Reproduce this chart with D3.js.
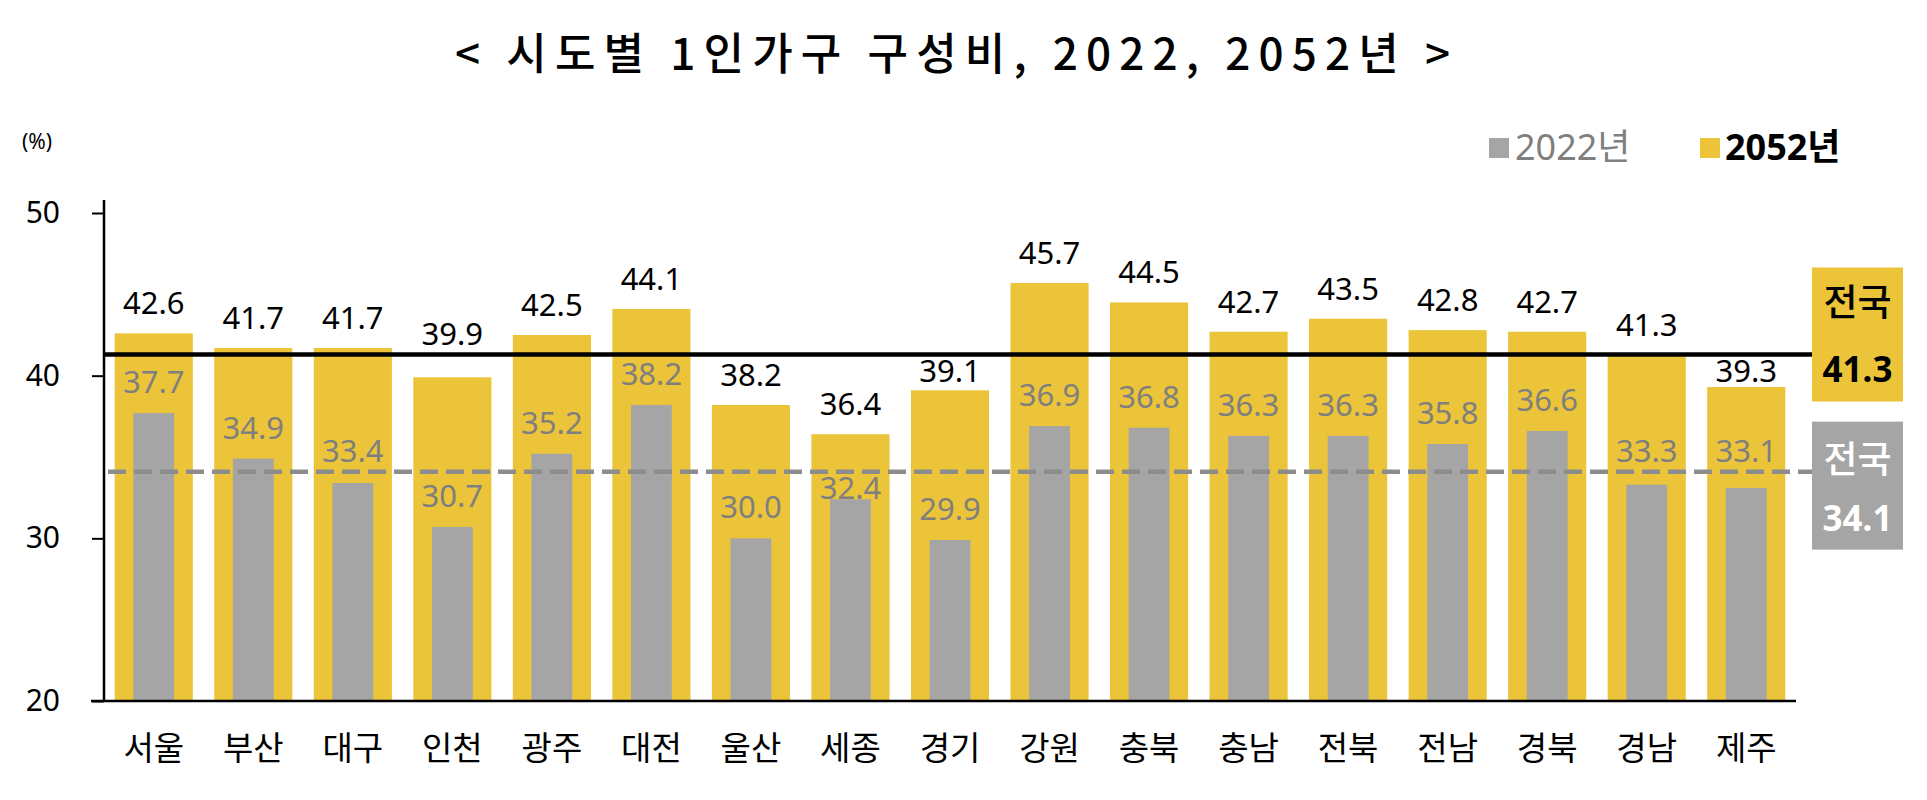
<!DOCTYPE html>
<html>
<head>
<meta charset="utf-8">
<script src="https://cdn.jsdelivr.net/npm/d3@7"></script>
<style>
    body { margin: 0; background: #fff; }
    text { font-family: "Noto Sans", "Noto Sans CJK KR", sans-serif; }
    .kr { font-family: "Noto Sans CJK KR", "Noto Sans", sans-serif; }
</style>
</head>
<body>
<div id="chart"></div>
<script>
// data
const regions = ['서울', '부산', '대구', '인천', '광주', '대전', '울산', '세종', '경기',
                 '강원', '충북', '충남', '전북', '전남', '경북', '경남', '제주'];
const values2022 = [37.7, 34.9, 33.4, 30.7, 35.2, 38.2, 30.0, 32.4, 29.9,
                    36.9, 36.8, 36.3, 36.3, 35.8, 36.6, 33.3, 33.1];
const values2052 = [42.6, 41.7, 41.7, 39.9, 42.5, 44.1, 38.2, 36.4, 39.1,
                    45.7, 44.5, 42.7, 43.5, 42.8, 42.7, 41.3, 39.3];
const seriesNames = ['2022년', '2052년'];
const nationalValues = [34.1, 41.3];
const nationalLabel = '전국';
const yTicks = [20, 30, 40, 50];
const title = '< 시도별 1인가구 구성비, 2022, 2052년 >';
const unitLabel = '(%)';

let width = 1927;
let height = 800;

let colors = { gray: '#a5a5a5', gold: '#ebc43a', grayText: '#7f7f7f', dash: '#8c8c8c' };

let svg = d3.select('#chart').append('svg')
    .attr('width', width)
    .attr('height', height);

// scales
let x = d3.scaleBand().domain(regions).range([104, 1796]).padding(0);
let y = d3.scaleLinear().domain([20, 50]).range([701, 213]);

let bw = x.bandwidth();
let goldW = bw * 0.785;
let grayW = bw * 0.41;

// title
svg.append('text')
    .attr('class', 'kr')
    .attr('x', 455)
    .attr('y', 70)
    .attr('textLength', 995)
    .attr('lengthAdjust', 'spacing')
    .style('font-size', '44px')
    .style('font-weight', 500)
    .text(title);

svg.append('text')
    .attr('x', 22)
    .attr('y', 149)
    .style('font-size', '21px')
    .text(unitLabel);

// legend
let legend = svg.append('g');
legend.append('rect').attr('x', 1489).attr('y', 138).attr('width', 20).attr('height', 20).attr('fill', colors.gray);
legend.append('text').attr('x', 1515).attr('y', 160)
    .style('font-size', '36px').attr('fill', colors.grayText).text(seriesNames[0]);
legend.append('rect').attr('x', 1700).attr('y', 138).attr('width', 20).attr('height', 20).attr('fill', colors.gold);
legend.append('text').attr('x', 1725).attr('y', 160)
    .style('font-size', '36px').style('font-weight', 'bold').text(seriesNames[1]);

// bars
let rows = regions.map((r, i) => ({ region: r, v22: values2022[i], v52: values2052[i] }));

svg.append('g').selectAll('rect')
    .data(rows)
    .enter().append('rect')
    .attr('x', d => x(d.region) + (bw - goldW) / 2)
    .attr('width', goldW)
    .attr('y', d => y(d.v52))
    .attr('height', d => y(20) - y(d.v52))
    .attr('fill', colors.gold);

svg.append('g').selectAll('rect')
    .data(rows)
    .enter().append('rect')
    .attr('x', d => x(d.region) + (bw - grayW) / 2)
    .attr('width', grayW)
    .attr('y', d => y(d.v22))
    .attr('height', d => y(20) - y(d.v22))
    .attr('fill', colors.gray);

// national average lines
let line52 = y(nationalValues[1]);
let line22 = y(nationalValues[0]);
let boxLeft = 1812;
let boxRight = 1903;

svg.append('line')
    .attr('x1', 104).attr('x2', boxLeft)
    .attr('y1', line52).attr('y2', line52)
    .attr('stroke', '#000').attr('stroke-width', 4.5);

svg.append('line')
    .attr('x1', 108).attr('x2', boxLeft)
    .attr('y1', line22).attr('y2', line22)
    .attr('stroke', colors.dash).attr('stroke-width', 4.5)
    .attr('stroke-dasharray', '18,8');

// axes
let yAxis = d3.axisLeft(y).tickValues(yTicks).tickSize(12).tickPadding(32).tickSizeOuter(0);
let gy = svg.append('g').attr('transform', 'translate(104,0)').call(yAxis);
gy.select('.domain').remove();
gy.selectAll('line').attr('stroke', '#000').attr('stroke-width', 2);
gy.selectAll('text').style('font-size', '30px').attr('fill', '#000')
    .style('font-family', '"Noto Sans", sans-serif');
gy.append('line').attr('x1', 0).attr('x2', 0).attr('y1', 200).attr('y2', y(20))
    .attr('stroke', '#000').attr('stroke-width', 2.5);

let xAxis = d3.axisBottom(x).tickSize(0).tickPadding(36);
let gx = svg.append('g').attr('transform', 'translate(0,' + y(20) + ')').call(xAxis);
gx.select('.domain').remove();
gx.selectAll('text').attr('class', 'kr').style('font-size', '33px').attr('fill', '#000')
    .style('font-family', '"Noto Sans CJK KR", sans-serif');
gx.append('line').attr('x1', 91).attr('x2', 1796).attr('y1', 0).attr('y2', 0)
    .attr('stroke', '#000').attr('stroke-width', 2.5);

// keep a value label off a national line: go above it if that is close, else below
function labelY(v, lineY, gap) {
    let top = y(v);
    let base = top - gap;
    let cap = 22;
    if (base + 4 > lineY - 6 && base - cap < lineY + 6) {
        let up = lineY - 10;
        if (top - up <= 35) base = up;
        else base = lineY + cap + 5;
    }
    return base;
}

svg.append('g').selectAll('text')
    .data(rows)
    .enter().append('text')
    .attr('x', d => x(d.region) + bw / 2)
    .attr('y', d => labelY(d.v52, line52, 19))
    .attr('text-anchor', 'middle')
    .style('font-size', '31px')
    .text(d => d.v52.toFixed(1));

svg.append('g').selectAll('text')
    .data(rows)
    .enter().append('text')
    .attr('x', d => x(d.region) + bw / 2)
    .attr('y', d => labelY(d.v22, line22, 20))
    .attr('text-anchor', 'middle')
    .attr('fill', colors.grayText)
    .style('font-size', '31px')
    .text(d => d.v22.toFixed(1));

// national boxes on the right
let cx = (boxLeft + boxRight) / 2;
let box52 = svg.append('g');
box52.append('rect').attr('x', boxLeft).attr('y', line52 - 87)
    .attr('width', boxRight - boxLeft).attr('height', 134).attr('fill', colors.gold);
box52.append('text').attr('class', 'kr').attr('x', cx).attr('y', line52 - 39)
    .attr('text-anchor', 'middle').style('font-size', '37px').style('font-weight', 500)
    .text(nationalLabel);
box52.append('text').attr('x', cx).attr('y', line52 + 27)
    .attr('text-anchor', 'middle').style('font-size', '35px').style('font-weight', 'bold')
    .text(nationalValues[1].toFixed(1));

let box22 = svg.append('g');
box22.append('rect').attr('x', boxLeft).attr('y', line22 - 50)
    .attr('width', boxRight - boxLeft).attr('height', 128).attr('fill', colors.gray);
box22.append('text').attr('class', 'kr').attr('x', cx).attr('y', line22 + 1)
    .attr('text-anchor', 'middle').attr('fill', '#fff').style('font-size', '37px').style('font-weight', 500)
    .text(nationalLabel);
box22.append('text').attr('x', cx).attr('y', line22 + 59)
    .attr('text-anchor', 'middle').attr('fill', '#fff').style('font-size', '35px').style('font-weight', 'bold')
    .text(nationalValues[0].toFixed(1));
</script>
</body>
</html>
